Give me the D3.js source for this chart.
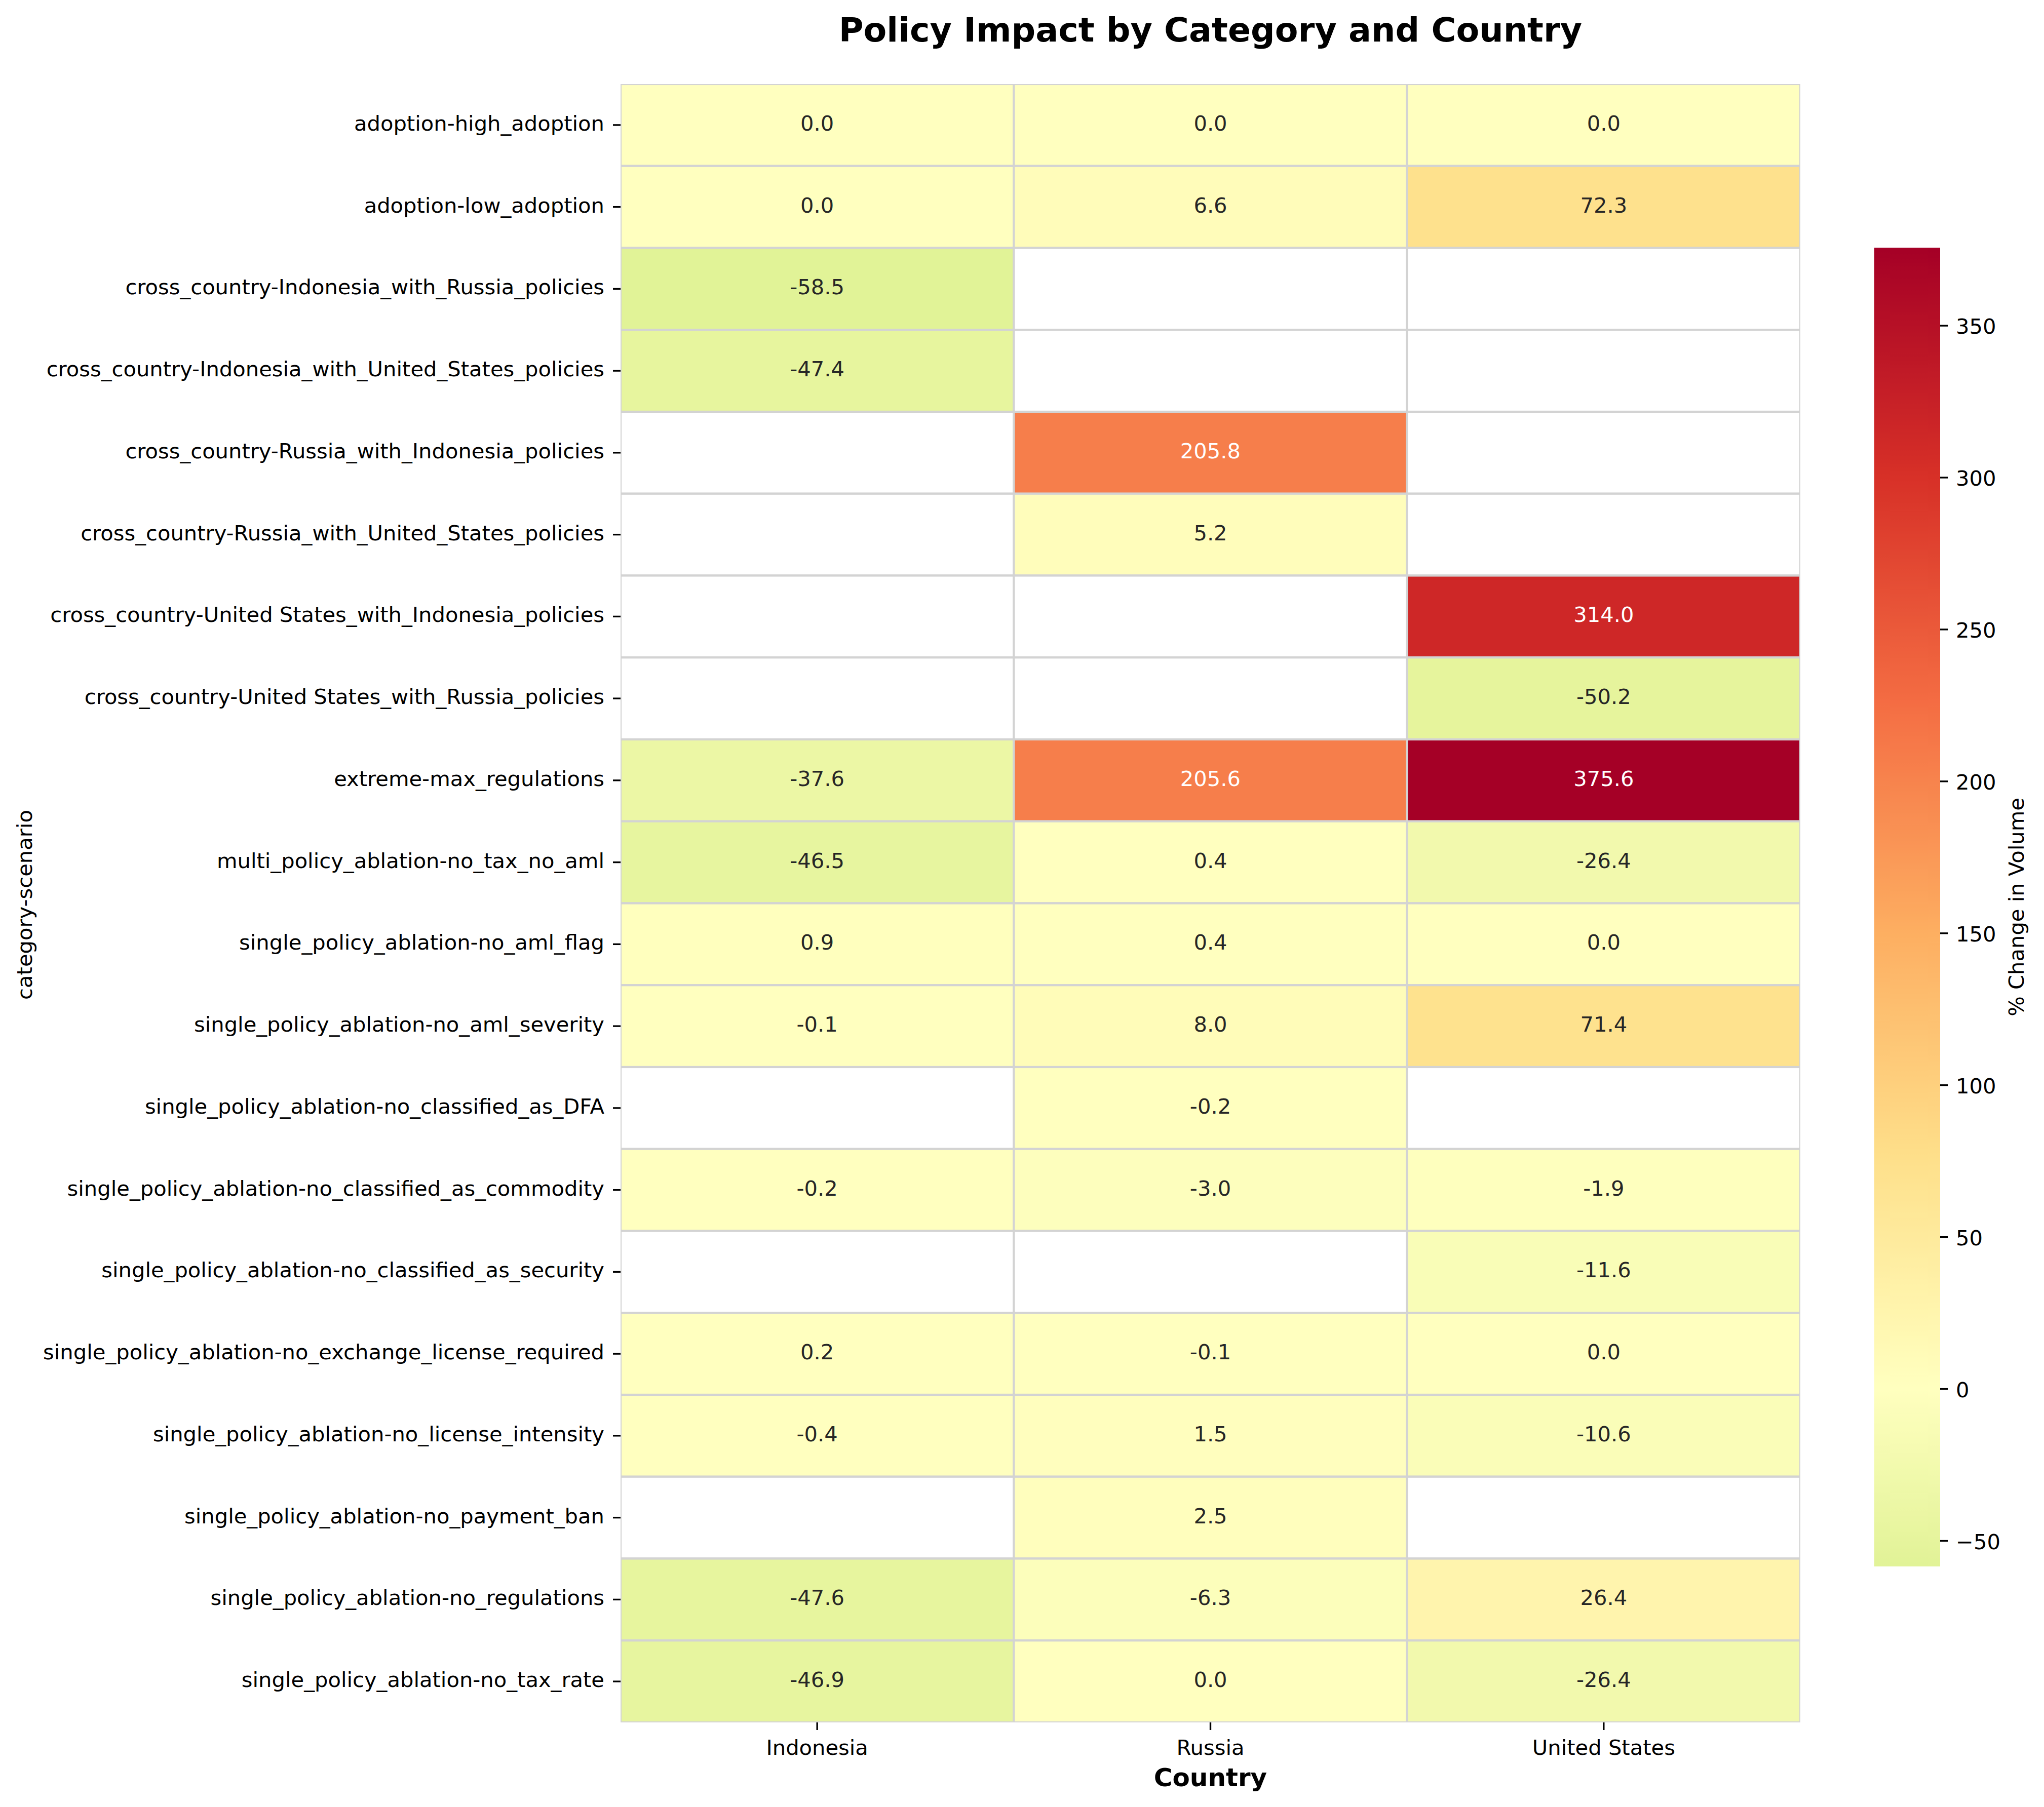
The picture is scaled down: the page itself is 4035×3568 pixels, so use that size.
<!DOCTYPE html>
<html>
<head>
<meta charset="utf-8">
<script src="https://cdn.jsdelivr.net/npm/d3@7"></script>
<style>
  html, body { margin: 0; padding: 0; background: #fff; }
  svg { display: block; }
  text { font-family: "DejaVu Sans", sans-serif; }
</style>
</head>
<body>
<svg id="chart" width="4035" height="3568"></svg>
<script>
// ---------------- data ----------------
const categories = [
  "adoption-high_adoption",
  "adoption-low_adoption",
  "cross_country-Indonesia_with_Russia_policies",
  "cross_country-Indonesia_with_United_States_policies",
  "cross_country-Russia_with_Indonesia_policies",
  "cross_country-Russia_with_United_States_policies",
  "cross_country-United States_with_Indonesia_policies",
  "cross_country-United States_with_Russia_policies",
  "extreme-max_regulations",
  "multi_policy_ablation-no_tax_no_aml",
  "single_policy_ablation-no_aml_flag",
  "single_policy_ablation-no_aml_severity",
  "single_policy_ablation-no_classified_as_DFA",
  "single_policy_ablation-no_classified_as_commodity",
  "single_policy_ablation-no_classified_as_security",
  "single_policy_ablation-no_exchange_license_required",
  "single_policy_ablation-no_license_intensity",
  "single_policy_ablation-no_payment_ban",
  "single_policy_ablation-no_regulations",
  "single_policy_ablation-no_tax_rate"
];
const countries = ["Indonesia", "Russia", "United States"];
const indonesiaValues = [0.0, 0.0, -58.5, -47.4, null, null, null, null, -37.6, -46.5, 0.9, -0.1, null, -0.2, null, 0.2, -0.4, null, -47.6, -46.9];
const russiaValues    = [0.0, 6.6, null, null, 205.8, 5.2, null, null, 205.6, 0.4, 0.4, 8.0, -0.2, -3.0, null, -0.1, 1.5, 2.5, -6.3, 0.0];
const usValues        = [0.0, 72.3, null, null, null, null, 314.0, -50.2, 375.6, -26.4, 0.0, 71.4, null, -1.9, -11.6, 0.0, -10.6, null, 26.4, -26.4];
const colorbarTicks = [-50, 0, 50, 100, 150, 200, 250, 300, 350];
const rdYlGn = ["#a50026","#d73027","#f46d43","#fdae61","#fee08b","#ffffbf","#d9ef8b","#a6d96a","#66bd63","#1a9850","#006837"];

const seriesByCountry = {"Indonesia": indonesiaValues, "Russia": russiaValues, "United States": usValues};
const cells = [];
categories.forEach((cat, i) => {
  countries.forEach(c => cells.push({cat, country: c, value: seriesByCountry[c][i]}));
});

// ---------------- layout ----------------
const svg = d3.select("#chart");
const FS = 41.67;
const L = 1225, R = 3554, T = 166, B = 3401;

const x = d3.scaleBand().domain(countries).range([L, R]);
const y = d3.scaleBand().domain(categories).range([T, B]);

const allVals = cells.map(d => d.value).filter(v => v !== null);
const vmin = d3.min(allVals), vmax = d3.max(allVals);
const center = 0;
const vrange = Math.max(vmax - center, center - vmin);
// RdYlGn_r centred on 0 (seaborn-style)
const tScale = d3.scaleLinear().domain([center - vrange, center + vrange]).range([1, 0]);
const cmap = d3.scaleLinear().domain(d3.range(11).map(i => i / 10)).range(rdYlGn).interpolate(d3.interpolateRgb);
const color = v => cmap(tScale(v));

function lum(c) {
  const rgb = d3.rgb(c);
  const f = u => { u = u / 255; return u <= 0.03928 ? u / 12.92 : Math.pow((u + 0.055) / 1.055, 2.4); };
  return 0.2126 * f(rgb.r) + 0.7152 * f(rgb.g) + 0.0722 * f(rgb.b);
}

// clip
svg.append("defs").append("clipPath").attr("id", "hmclip")
  .append("rect").attr("x", L).attr("y", T).attr("width", R - L).attr("height", B - T);

const hm = svg.append("g").attr("clip-path", "url(#hmclip)");
hm.selectAll("rect.cell").data(cells).join("rect")
  .attr("class", "cell")
  .attr("x", d => x(d.country))
  .attr("y", d => y(d.cat))
  .attr("width", x.bandwidth())
  .attr("height", y.bandwidth())
  .attr("fill", d => d.value === null ? "#ffffff" : color(d.value))
  .attr("stroke", "#d3d3d3")
  .attr("stroke-width", 4.17);

svg.append("g").selectAll("text").data(cells.filter(d => d.value !== null)).join("text")
  .attr("x", d => x(d.country) + x.bandwidth() / 2)
  .attr("y", d => y(d.cat) + y.bandwidth() / 2 + 11)
  .attr("text-anchor", "middle")
  .attr("font-size", FS)
  .attr("fill", d => lum(color(d.value)) > 0.408 ? "#262626" : "#ffffff")
  .text(d => d.value.toFixed(1));

// axes
const yAxis = svg.append("g").attr("transform", `translate(${L},0)`)
  .call(d3.axisLeft(y).tickSize(15).tickPadding(17));
yAxis.select(".domain").remove();
yAxis.selectAll(".tick line").attr("stroke", "#000").attr("stroke-width", 3.33);
yAxis.selectAll(".tick text").attr("font-size", FS).attr("fill", "#000")
  .attr("font-family", "DejaVu Sans").attr("dy", null).attr("y", 11);

const xAxis = svg.append("g").attr("transform", `translate(0,${B})`)
  .call(d3.axisBottom(x).tickSize(15).tickPadding(19));
xAxis.select(".domain").remove();
xAxis.selectAll(".tick line").attr("stroke", "#000").attr("stroke-width", 3.33);
xAxis.selectAll(".tick text").attr("font-size", FS).attr("fill", "#000")
  .attr("font-family", "DejaVu Sans");

// labels
svg.append("text").attr("x", (L + R) / 2).attr("y", 82)
  .attr("text-anchor", "middle").attr("font-size", 66.67).attr("font-weight", "bold")
  .text("Policy Impact by Category and Country");
svg.append("text").attr("x", (L + R) / 2).attr("y", 3527)
  .attr("text-anchor", "middle").attr("font-size", 50).attr("font-weight", "bold")
  .text("Country");
svg.append("text").attr("transform", `translate(63,${(T + B) / 2 + 3}) rotate(-90)`)
  .attr("text-anchor", "middle").attr("font-size", FS)
  .text("category-scenario");

// colorbar
const CBL = 3700, CBR = 3830, CBT = 489, CBB = 3093;
const cy = d3.scaleLinear().domain([vmin, vmax]).range([CBB, CBT]);
const grad = svg.select("defs").append("linearGradient").attr("id", "cbgrad")
  .attr("x1", 0).attr("y1", 1).attr("x2", 0).attr("y2", 0);
const nStops = 120;
grad.selectAll("stop").data(d3.range(nStops)).join("stop")
  .attr("offset", i => i / (nStops - 1))
  .attr("stop-color", i => color(vmin + (vmax - vmin) * i / (nStops - 1)));
svg.append("rect").attr("x", CBL).attr("y", CBT).attr("width", CBR - CBL).attr("height", CBB - CBT)
  .attr("fill", "url(#cbgrad)");
const cAxis = svg.append("g").attr("transform", `translate(${CBR},0)`)
  .call(d3.axisRight(cy).tickValues(colorbarTicks).tickSize(15).tickPadding(16)
    .tickFormat(v => (v < 0 ? "\u2212" : "") + Math.abs(v)));
cAxis.select(".domain").remove();
cAxis.selectAll(".tick line").attr("stroke", "#000").attr("stroke-width", 3.33);
cAxis.selectAll(".tick text").attr("font-size", FS).attr("fill", "#000")
  .attr("font-family", "DejaVu Sans").attr("dy", null).attr("y", 16);
svg.append("text").attr("transform", `translate(3995,${(CBT + CBB) / 2}) rotate(-90)`)
  .attr("text-anchor", "middle").attr("font-size", FS)
  .text("% Change in Volume");
</script>
</body>
</html>
